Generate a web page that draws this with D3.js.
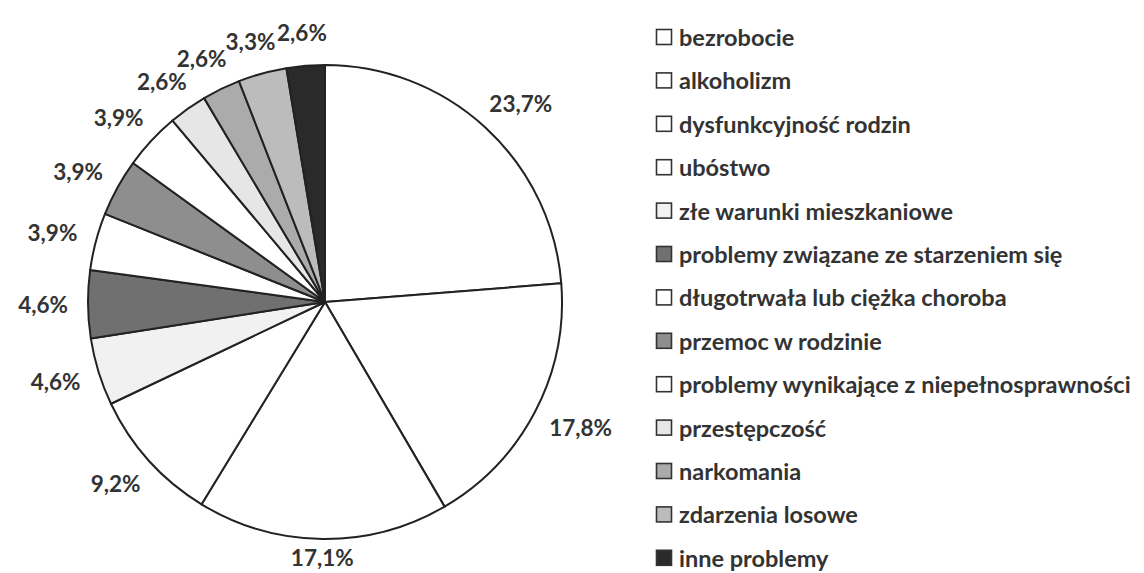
<!DOCTYPE html>
<html>
<head>
<meta charset="utf-8">
<script src="https://cdn.jsdelivr.net/npm/d3@7"></script>
<style>
  html, body { margin: 0; padding: 0; background: #fff; }
  svg text { font-family: Lato, "Open Sans", sans-serif; font-weight: bold; fill: #333; }
</style>
</head>
<body>
<svg id="chart" width="1144" height="573"></svg>
<script>
const categories = [
  "bezrobocie",
  "alkoholizm",
  "dysfunkcyjność rodzin",
  "ubóstwo",
  "złe warunki mieszkaniowe",
  "problemy związane ze starzeniem się",
  "długotrwała lub ciężka choroba",
  "przemoc w rodzinie",
  "problemy wynikające z niepełnosprawności",
  "przestępczość",
  "narkomania",
  "zdarzenia losowe",
  "inne problemy"
];
const values = [23.7, 17.8, 17.1, 9.2, 4.6, 4.6, 3.9, 3.9, 3.9, 2.6, 2.6, 3.3, 2.6];
const valueLabels = ["23,7%", "17,8%", "17,1%", "9,2%", "4,6%", "4,6%", "3,9%", "3,9%", "3,9%", "2,6%", "2,6%", "3,3%", "2,6%"];
const fills = ["#ffffff", "#ffffff", "#ffffff", "#ffffff", "#f1f1f1", "#707070", "#ffffff", "#8e8e8e", "#ffffff", "#e6e6e6", "#ababab", "#bcbcbc", "#2a2a2a"];

const W = 1144, H = 573;
const cx = 325, cy = 302, R = 237;
const svg = d3.select("#chart");

const pie = d3.pie().sort(null).value(d => d)(values);
const arc = d3.arc().innerRadius(0).outerRadius(R);

const g = svg.append("g").attr("transform", `translate(${cx},${cy})`);
g.selectAll("path.slice")
  .data(pie)
  .join("path")
  .attr("class", "slice")
  .attr("d", arc)
  .attr("fill", (d, i) => fills[i])
  .attr("stroke", "#222")
  .attr("stroke-width", 2)
  .attr("stroke-linejoin", "round");

// data labels: placed just outside the arc, box offset by its own size
const gap = 20;
const labels = g.selectAll("text.lbl")
  .data(pie)
  .join("text")
  .attr("class", "lbl")
  .attr("font-size", 22.5)
  .attr("text-anchor", "middle")
  .attr("dominant-baseline", "central")
  .text((d, i) => valueLabels[i]);

labels.each(function(d) {
  const bb = this.getBBox();
  const a = (d.startAngle + d.endAngle) / 2;
  const s = Math.sin(a), c = -Math.cos(a);
  let x = (R + gap) * s + s * bb.width / 2;
  let y = (R + gap) * c + c * bb.height / 2;
  // keep inside the chart area
  const maxY = H - cy - bb.height / 2 - 2;
  if (y > maxY) y = maxY;
  d3.select(this).attr("x", x).attr("y", y);
});

// legend
const legendX = 656, legendY0 = 37, legendStep = 43.4, box = 15;
const lg = svg.append("g");
const rows = lg.selectAll("g.row")
  .data(categories)
  .join("g")
  .attr("class", "row")
  .attr("transform", (d, i) => `translate(${legendX},${legendY0 + i * legendStep})`);
rows.append("rect")
  .attr("x", 0.5).attr("y", -box / 2)
  .attr("width", box).attr("height", box)
  .attr("fill", (d, i) => fills[i])
  .attr("stroke", "#333")
  .attr("stroke-width", 1.6);
rows.append("text")
  .attr("x", 23)
  .attr("y", 0)
  .attr("dominant-baseline", "central")
  .attr("font-size", 23.5)
  .text(d => d);
</script>
</body>
</html>
